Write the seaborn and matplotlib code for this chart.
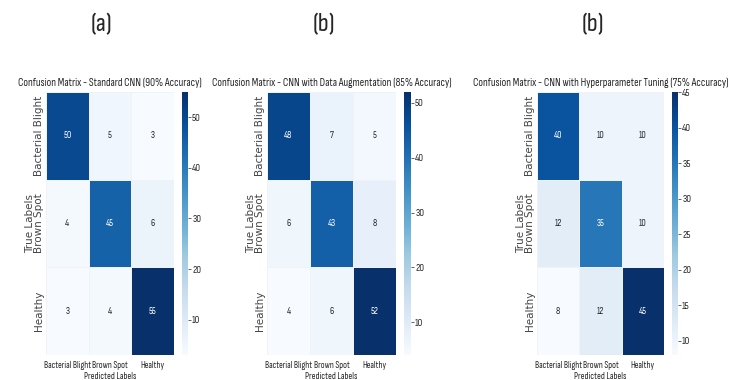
import matplotlib
matplotlib.use('Agg')
import matplotlib.pyplot as plt
import seaborn as sns
import numpy as np

# Data
class_names = ['Bacterial Blight', 'Brown Spot', 'Healthy']
panel_tags = ['(a)', '(b)', '(b)']
titles = [
    'Confusion Matrix - Standard CNN (90% Accuracy)',
    'Confusion Matrix - CNN with Data Augmentation (85% Accuracy)',
    'Confusion Matrix - CNN with Hyperparameter Tuning (75% Accuracy)',
]
cm_standard = [[50, 5, 3], [4, 45, 6], [3, 4, 55]]
cm_augment = [[48, 7, 5], [6, 43, 8], [4, 6, 52]]
cm_tuning = [[40, 10, 10], [12, 35, 10], [8, 12, 45]]
matrices = [cm_standard, cm_augment, cm_tuning]

sns.set_style('white')
plt.rcParams['font.family'] = ['Sofia Sans Condensed', 'DejaVu Sans']

fig = plt.figure(figsize=(7.42, 3.8), dpi=100)
W, H = 742.0, 380.0

# pixel boxes: heatmap left/right, colorbar left/right
boxes = [(46, 174, 182, 188), (267, 396, 404, 411), (537, 664, 672, 678)]
top_px, bot_px = 92, 355

for i, (cm, title, tag) in enumerate(zip(matrices, titles, panel_tags)):
    hl, hr, cl, cr = boxes[i]
    ax = fig.add_axes([hl / W, 1 - bot_px / H, (hr - hl) / W, (bot_px - top_px) / H])
    cax = fig.add_axes([cl / W, 1 - bot_px / H, (cr - cl) / W, (bot_px - top_px) / H])
    sns.heatmap(np.array(cm), annot=True, fmt='d', cmap='Blues', ax=ax, cbar_ax=cax,
                xticklabels=class_names, yticklabels=class_names,
                linewidths=0.5, linecolor='#eef3f8',
                annot_kws={'fontsize': 7})
    ax.set_title(title, fontsize=8, pad=4)
    ax.set_xlabel('Predicted Labels', fontsize=6.8, labelpad=2)
    ax.set_ylabel('True Labels', fontsize=7.5, family='DejaVu Sans', labelpad=-1, color='#444444')
    ax.tick_params(axis='x', labelsize=6.7, length=2, width=0.5, pad=2, labelrotation=0)
    ax.tick_params(axis='y', labelsize=7.5, length=1.5, width=0.5, pad=0, labelcolor='#444444')
    for lab in ax.get_yticklabels():
        lab.set_family('DejaVu Sans')
        lab.set_rotation(90)
        lab.set_va('center')
    cax.tick_params(labelsize=7.5, length=2, width=0.5, pad=1)
    fig.text((hl + hr) / 2 / W - 8 / W, 1 - 25 / H, tag, ha='center', va='center', fontsize=19)

fig.savefig('out.png', dpi=100)
